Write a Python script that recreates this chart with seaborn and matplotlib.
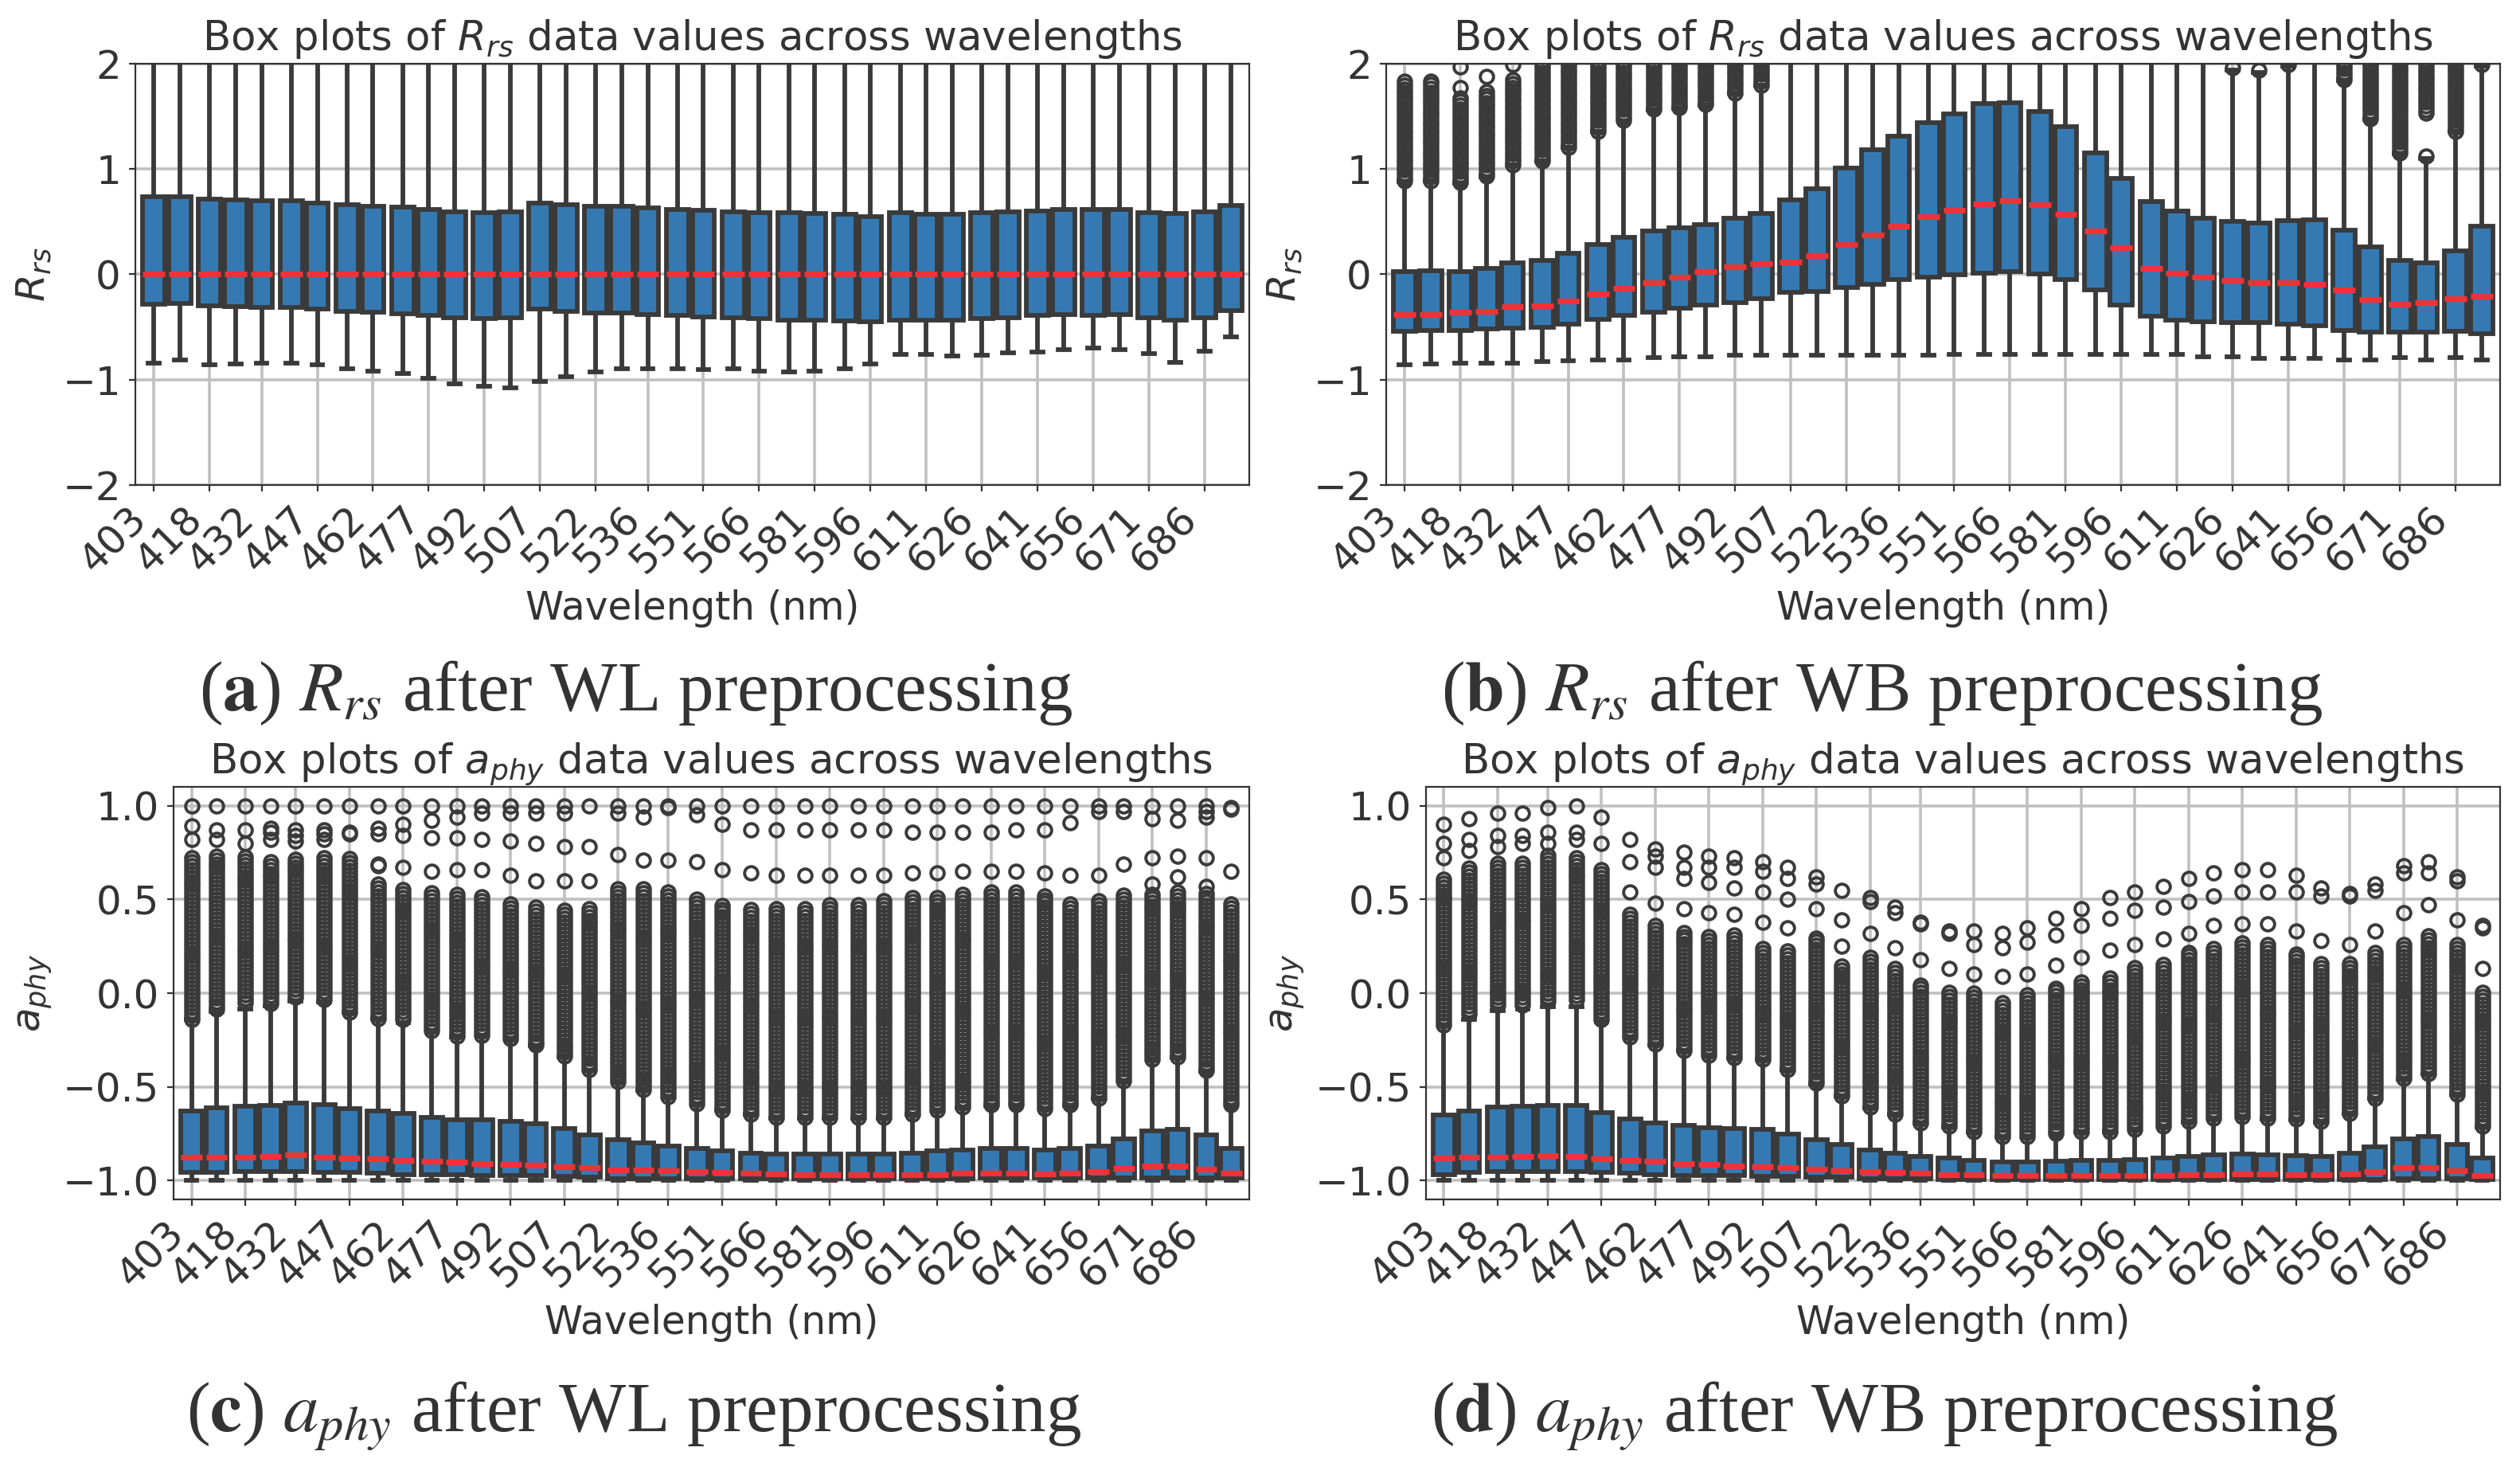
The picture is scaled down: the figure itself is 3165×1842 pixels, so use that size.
import numpy as np
import pandas as pd
import matplotlib
matplotlib.use("Agg")
import matplotlib.pyplot as plt
import seaborn as sns

# Wavelengths (nm), one box per band
wavelengths = [403, 410, 418, 425, 432, 440, 447, 455, 462, 470,
               477, 484, 492, 499, 507, 514, 522, 529, 536, 544,
               551, 559, 566, 574, 581, 589, 596, 604, 611, 618,
               626, 633, 641, 648, 656, 663, 671, 678, 686, 693]

# (a) Rrs after WL preprocessing
a_q1 = [-0.28, -0.274, -0.297, -0.307, -0.312, -0.317, -0.327, -0.348, -0.358, -0.373,
        -0.389, -0.414, -0.422, -0.414, -0.332, -0.35, -0.363, -0.366, -0.379, -0.389,
        -0.404, -0.414, -0.422, -0.435, -0.435, -0.44, -0.453, -0.435, -0.435, -0.435,
        -0.422, -0.409, -0.389, -0.384, -0.389, -0.384, -0.409, -0.435, -0.409, -0.345]
a_med = [0.0, 0.0, 0.0, 0.0, 0.0, 0.0, 0.0, 0.0, 0.0, 0.0,
         0.0, 0.0, 0.0, 0.0, 0.0, 0.0, 0.0, 0.0, 0.0, 0.0,
         0.0, 0.0, 0.0, 0.0, 0.0, 0.0, 0.0, 0.0, 0.0, 0.0,
         0.0, 0.0, 0.0, 0.0, 0.0, 0.0, 0.0, 0.0, 0.0, 0.0]
a_q3 = [0.734, 0.734, 0.716, 0.708, 0.703, 0.696, 0.68, 0.66, 0.647, 0.64,
        0.619, 0.593, 0.588, 0.593, 0.673, 0.665, 0.65, 0.645, 0.634, 0.619,
        0.609, 0.593, 0.588, 0.583, 0.575, 0.568, 0.55, 0.583, 0.57, 0.57,
        0.583, 0.596, 0.601, 0.614, 0.614, 0.619, 0.588, 0.58, 0.596, 0.652]
a_wlo = [-0.84, -0.81, -0.86, -0.854, -0.84, -0.84, -0.86, -0.893, -0.918, -0.944,
         -0.987, -1.04, -1.059, -1.079, -1.015, -0.974, -0.925, -0.898, -0.893, -0.893,
         -0.905, -0.893, -0.918, -0.93, -0.918, -0.893, -0.847, -0.76, -0.76, -0.778,
         -0.77, -0.744, -0.734, -0.714, -0.70, -0.714, -0.752, -0.836, -0.731, -0.59]
a_whi = [2.1] * 40

# (b) Rrs after WB preprocessing
b_q1 = [-0.54, -0.535, -0.53, -0.52, -0.51, -0.50, -0.47, -0.43, -0.39, -0.36,
        -0.32, -0.29, -0.265, -0.23, -0.17, -0.16, -0.125, -0.095, -0.05, -0.025,
        -0.005, 0.01, 0.03, 0.005, -0.05, -0.15, -0.29, -0.40, -0.435, -0.45,
        -0.46, -0.46, -0.47, -0.485, -0.53, -0.55, -0.55, -0.55, -0.54, -0.56]
b_med = [-0.38, -0.38, -0.36, -0.35, -0.31, -0.30, -0.25, -0.185, -0.13, -0.077,
         -0.025, 0.025, 0.07, 0.10, 0.12, 0.175, 0.28, 0.375, 0.455, 0.545,
         0.605, 0.67, 0.70, 0.66, 0.57, 0.41, 0.25, 0.06, 0.01, -0.026,
         -0.053, -0.076, -0.076, -0.094, -0.15, -0.24, -0.28, -0.265, -0.23, -0.21]
b_q3 = [0.03, 0.035, 0.03, 0.06, 0.11, 0.13, 0.2, 0.285, 0.35, 0.41,
        0.44, 0.47, 0.53, 0.58, 0.705, 0.81, 1.01, 1.18, 1.31, 1.44,
        1.52, 1.62, 1.63, 1.55, 1.405, 1.15, 0.91, 0.69, 0.60, 0.535,
        0.50, 0.49, 0.51, 0.52, 0.42, 0.26, 0.13, 0.11, 0.22, 0.455]
b_wlo = [-0.86, -0.85, -0.845, -0.845, -0.84, -0.83, -0.82, -0.815, -0.81, -0.79,
         -0.785, -0.78, -0.77, -0.77, -0.77, -0.77, -0.765, -0.765, -0.765, -0.765,
         -0.76, -0.76, -0.76, -0.76, -0.76, -0.76, -0.76, -0.76, -0.76, -0.78,
         -0.78, -0.795, -0.795, -0.795, -0.81, -0.81, -0.79, -0.81, -0.79, -0.815]
b_whi = [2.1] * 40
# dense flier columns (start, end); None = no dense column
b_flier_lo = [0.85, 0.85, 0.85, 0.88, 1.0, 1.07, 1.15, 1.29, 1.40, 1.53,
              1.56, 1.59, 1.68, 1.75, None, None, None, None, None, None,
              None, None, None, None, None, None, None, None, None, None,
              None, None, None, None, 1.79, 1.44, 1.12, 1.53, 1.35, None]
b_flier_hi = [1.85, 1.85, 1.70, 1.75, 1.87, 2.05, 2.05, 2.05, 2.05, 2.05,
              2.05, 2.05, 2.05, 2.05, None, None, None, None, None, None,
              None, None, None, None, None, None, None, None, None, None,
              None, None, None, None, 2.05, 2.05, 2.05, 2.05, 2.05, None]
b_single = [[], [], [1.77, 1.97], [1.88], [1.99], [], [], [], [], [],
            [], [], [], [], [], [], [], [], [], [],
            [], [], [], [], [], [], [], [], [], [],
            [1.96], [1.94], [1.99], [], [], [], [], [1.12], [], [1.99]]

# (c) aphy after WL preprocessing
c_q1 = [-0.957, -0.957, -0.952, -0.952, -0.952, -0.957, -0.957, -0.96, -0.967, -0.967,
        -0.967, -0.974, -0.974, -0.974, -0.978, -0.983, -0.989, -0.989, -0.989, -0.989,
        -0.989, -0.989, -0.989, -0.989, -0.989, -0.989, -0.989, -0.989, -0.989, -0.989,
        -0.985, -0.985, -0.985, -0.985, -0.985, -0.985, -0.985, -0.985, -0.985, -0.985]
c_med = [-0.876, -0.874, -0.874, -0.870, -0.863, -0.874, -0.878, -0.883, -0.891, -0.896,
         -0.902, -0.909, -0.913, -0.917, -0.924, -0.93, -0.941, -0.941, -0.948, -0.952,
         -0.957, -0.961, -0.963, -0.967, -0.967, -0.967, -0.97, -0.97, -0.967, -0.961,
         -0.961, -0.961, -0.963, -0.961, -0.952, -0.935, -0.92, -0.92, -0.939, -0.961]
c_q3 = [-0.63, -0.613, -0.604, -0.598, -0.587, -0.593, -0.615, -0.63, -0.643, -0.663,
        -0.674, -0.674, -0.685, -0.696, -0.722, -0.754, -0.783, -0.80, -0.815, -0.83,
        -0.843, -0.852, -0.859, -0.859, -0.859, -0.859, -0.859, -0.852, -0.843, -0.837,
        -0.83, -0.83, -0.837, -0.83, -0.815, -0.778, -0.733, -0.728, -0.757, -0.83]
c_wlo = [-1.0] * 40
c_whi = [1.0] * 40
c_flier_lo = [-0.15, -0.087, -0.05, -0.054, -0.02, -0.033, -0.12, -0.15, -0.14, -0.20,
              -0.23, -0.23, -0.24, -0.30, -0.37, -0.435, -0.5, -0.565, -0.6, -0.63,
              -0.64, -0.70, -0.70, -0.70, -0.70, -0.685, -0.70, -0.685, -0.663, -0.64,
              -0.63, -0.64, -0.652, -0.63, -0.576, -0.5, -0.38, -0.37, -0.446, -0.61]
c_flier_hi = [0.74, 0.74, 0.73, 0.72, 0.73, 0.74, 0.73, 0.58, 0.56, 0.54,
              0.54, 0.53, 0.49, 0.47, 0.45, 0.47, 0.56, 0.56, 0.54, 0.51,
              0.48, 0.46, 0.45, 0.47, 0.49, 0.49, 0.50, 0.52, 0.52, 0.54,
              0.54, 0.54, 0.52, 0.49, 0.50, 0.54, 0.54, 0.56, 0.55, 0.49]
c_single = [[0.82, 0.89, 1.0], [0.82, 0.87, 1.0], [0.80, 0.87, 1.0], [0.82, 0.86, 0.88, 1.0],
            [0.81, 0.84, 0.87, 1.0], [0.82, 0.85, 0.87, 1.0], [0.85, 0.86, 1.0],
            [0.68, 0.69, 0.85, 0.88, 1.0], [0.67, 0.84, 0.90, 1.0], [0.65, 0.83, 0.92, 1.0],
            [0.66, 0.83, 0.94, 1.0], [0.66, 0.82, 0.96, 1.0], [0.63, 0.81, 0.96, 1.0],
            [0.60, 0.80, 0.96, 1.0], [0.60, 0.78, 0.96, 1.0], [0.60, 0.78, 1.0],
            [0.74, 0.96, 1.0], [0.71, 0.94, 1.0], [0.71, 0.99, 1.0], [0.70, 0.95, 1.0],
            [0.66, 0.90, 1.0], [0.64, 0.87, 1.0], [0.63, 0.87, 1.0], [0.63, 0.87, 1.0],
            [0.63, 0.87, 1.0], [0.63, 0.87, 1.0], [0.63, 0.87, 1.0], [0.64, 0.86, 1.0],
            [0.64, 0.86, 1.0], [0.65, 0.86, 1.0], [0.65, 0.86, 1.0], [0.65, 0.87, 1.0],
            [0.64, 0.87, 1.0], [0.63, 0.91, 1.0], [0.63, 0.97, 1.0], [0.69, 0.97, 1.0],
            [0.58, 0.72, 0.93, 1.0], [0.62, 0.73, 0.92, 1.0], [0.57, 0.72, 0.94, 0.97, 1.0],
            [0.65, 0.98, 0.99]]

# (d) aphy after WB preprocessing
d_q1 = [-0.967, -0.957, -0.952, -0.952, -0.95, -0.95, -0.957, -0.961, -0.967, -0.974,
        -0.974, -0.974, -0.978, -0.978, -0.983, -0.983, -0.989, -0.989, -0.989, -0.993,
        -0.993, -0.993, -0.993, -0.993, -0.993, -0.993, -0.993, -0.993, -0.993, -0.993,
        -0.993, -0.993, -0.993, -0.993, -0.993, -0.993, -0.989, -0.989, -0.989, -0.993]
d_med = [-0.88, -0.876, -0.874, -0.87, -0.865, -0.87, -0.883, -0.891, -0.898, -0.907,
         -0.913, -0.92, -0.924, -0.93, -0.939, -0.946, -0.952, -0.957, -0.961, -0.967,
         -0.97, -0.972, -0.974, -0.974, -0.974, -0.972, -0.972, -0.972, -0.97, -0.967,
         -0.965, -0.965, -0.967, -0.97, -0.965, -0.95, -0.93, -0.93, -0.948, -0.972]
d_q3 = [-0.648, -0.63, -0.609, -0.604, -0.598, -0.598, -0.635, -0.67, -0.691, -0.707,
        -0.717, -0.722, -0.728, -0.75, -0.783, -0.809, -0.837, -0.852, -0.87, -0.88,
        -0.891, -0.902, -0.902, -0.896, -0.891, -0.891, -0.887, -0.88, -0.87, -0.863,
        -0.859, -0.863, -0.865, -0.87, -0.852, -0.82, -0.776, -0.765, -0.809, -0.88]
d_wlo = [-1.0] * 40
d_whi = [1.0] * 40
d_flier_lo = [-0.185, -0.11, -0.065, -0.065, -0.043, -0.033, -0.14, -0.24, -0.27, -0.34,
              -0.36, -0.374, -0.39, -0.435, -0.5, -0.565, -0.62, -0.674, -0.74, -0.76,
              -0.78, -0.80, -0.80, -0.79, -0.77, -0.76, -0.76, -0.74, -0.73, -0.70,
              -0.685, -0.685, -0.707, -0.73, -0.685, -0.61, -0.5, -0.478, -0.565, -0.75]
d_flier_hi = [0.62, 0.67, 0.70, 0.70, 0.74, 0.74, 0.67, 0.43, 0.38, 0.33,
              0.31, 0.31, 0.25, 0.23, 0.31, 0.16, 0.19, 0.14, 0.06, 0.02,
              0.0, -0.03, 0.0, 0.03, 0.08, 0.10, 0.15, 0.17, 0.23, 0.25,
              0.28, 0.26, 0.21, 0.16, 0.17, 0.22, 0.27, 0.31, 0.27, 0.02]
d_single = [[0.72, 0.80, 0.90], [0.76, 0.82, 0.93], [0.78, 0.84, 0.96], [0.80, 0.84, 0.96],
            [0.80, 0.86, 0.99], [0.82, 0.86, 1.0], [0.80, 0.94], [0.54, 0.70, 0.82],
            [0.48, 0.67, 0.73, 0.77], [0.45, 0.61, 0.67, 0.75], [0.43, 0.59, 0.67, 0.73],
            [0.42, 0.56, 0.67, 0.72], [0.38, 0.54, 0.65, 0.70], [0.35, 0.50, 0.61, 0.67],
            [0.45, 0.58, 0.62], [0.25, 0.39, 0.55], [0.32, 0.49, 0.51], [0.24, 0.43, 0.46],
            [0.18, 0.37, 0.38], [0.13, 0.32, 0.33], [0.10, 0.26, 0.33], [0.09, 0.24, 0.32],
            [0.10, 0.27, 0.35], [0.15, 0.31, 0.40], [0.19, 0.36, 0.45], [0.23, 0.40, 0.51],
            [0.26, 0.44, 0.54], [0.29, 0.46, 0.57], [0.32, 0.49, 0.61], [0.36, 0.52, 0.64],
            [0.37, 0.54, 0.66], [0.37, 0.54, 0.66], [0.33, 0.54, 0.63], [0.28, 0.52, 0.56],
            [0.26, 0.52, 0.53], [0.33, 0.55, 0.58], [0.43, 0.64, 0.68], [0.47, 0.64, 0.70],
            [0.39, 0.60, 0.62], [0.13, 0.35, 0.36]]

tick_wl = wavelengths[::2]

BOX = "#3579b3"
EDGE = "#3a3a3a"
MEDIAN = "#ee3338"
TXT = "#333333"

plt.rcParams.update({
    "font.family": ["DejaVu Sans"],
    "mathtext.fontset": "dejavusans",
    "text.color": TXT,
    "axes.labelcolor": TXT,
    "xtick.color": TXT,
    "ytick.color": TXT,
    "axes.edgecolor": "#333333",
    "axes.linewidth": 0.8,
    "grid.color": "#c0c0c0",
    "grid.linewidth": 1.3,
    "xtick.major.size": 3,
    "ytick.major.size": 3,
})


def sample_frame(q1, med, q3, wlo, whi, flo, fhi, single, step):
    # raw values that reproduce the box statistics
    rows = []
    for i, w in enumerate(wavelengths):
        top = q3[i] + 1.5 * (q3[i] - q1[i])
        hi = min(whi[i], top - 1e-3)
        fl = []
        if flo is not None and flo[i] is not None:
            fl = list(np.arange(max(flo[i], top + 1e-3), fhi[i] + 1e-9, step))
        if single is not None:
            fl += [v for v in single[i] if v > top]
        n = len(fl) + 5
        vals = [wlo[i]] + [q1[i]] * n + [med[i]] * n + [q3[i]] * n + [hi] + fl
        rows += [(w, v) for v in vals]
    return pd.DataFrame(rows, columns=["Wavelength", "value"])


def draw(ax, df, sym, ylim, yticks=None):
    sns.boxplot(data=df, x="Wavelength", y="value", native_scale=True, orient="x",
                color=BOX, saturation=1, width=0.85, linewidth=2.1, linecolor=EDGE,
                fliersize=6,
                flierprops=dict(marker="o", markerfacecolor="none",
                                markeredgecolor=EDGE, markeredgewidth=1.4),
                medianprops=dict(color=MEDIAN, linewidth=2.6),
                ax=ax)
    ax.set_axisbelow(True)
    ax.grid(True)
    ax.set_xlim(398, 698)
    ax.set_ylim(*ylim)
    if yticks is not None:
        ax.set_yticks(yticks)
    ax.set_xticks(tick_wl)
    ax.set_xticklabels([str(w) for w in tick_wl], rotation=45, ha="right", fontsize=18)
    ax.tick_params(axis="y", labelsize=18)
    ax.set_title(f"Box plots of ${sym}$ data values across wavelengths", fontsize=18.5)
    ax.set_xlabel("Wavelength (nm)", fontsize=17.5)
    ax.set_ylabel(f"${sym}$", fontsize=18)


W, H = 3165, 1842
fig = plt.figure(figsize=(W / 200, H / 200), dpi=200)


def add_axes(x0, x1, y0, y1):
    return fig.add_axes([x0 / W, 1 - y1 / H, (x1 - x0) / W, (y1 - y0) / H])


ax_a = add_axes(170, 1569, 80, 609)
ax_b = add_axes(1741, 3140, 80, 609)
ax_c = add_axes(218, 1569, 988, 1506)
ax_d = add_axes(1791, 3140, 988, 1506)

draw(ax_a, sample_frame(a_q1, a_med, a_q3, a_wlo, a_whi, None, None, None, 0.035),
     "R_{rs}", (-2, 2), [-2, -1, 0, 1, 2])
draw(ax_b, sample_frame(b_q1, b_med, b_q3, b_wlo, b_whi, b_flier_lo, b_flier_hi, b_single, 0.035),
     "R_{rs}", (-2, 2), [-2, -1, 0, 1, 2])
draw(ax_c, sample_frame(c_q1, c_med, c_q3, c_wlo, c_whi, c_flier_lo, c_flier_hi, c_single, 0.021),
     "a_{phy}", (-1.1, 1.1))
draw(ax_d, sample_frame(d_q1, d_med, d_q3, d_wlo, d_whi, d_flier_lo, d_flier_hi, d_single, 0.021),
     "a_{phy}", (-1.1, 1.1))

# sub-figure captions
captions = [
    (799, 892, r"($\mathbf{a}$) $R_{rs}$ after WL preprocessing"),
    (2364, 892, r"($\mathbf{b}$) $R_{rs}$ after WB preprocessing"),
    (796, 1798, r"($\mathbf{c}$) $a_{phy}$ after WL preprocessing"),
    (2367, 1798, r"($\mathbf{d}$) $a_{phy}$ after WB preprocessing"),
]
cap_texts = []
for cx, cy, s in captions:
    t = fig.text(cx / W, 1 - cy / H, s, ha="center", va="baseline", fontsize=26,
                 family=["Liberation Serif", "DejaVu Serif"], math_fontfamily="stix",
                 color=TXT)
    cap_texts.append(t)

fig.canvas.draw()
renderer = fig.canvas.get_renderer()
width_a = cap_texts[0].get_window_extent(renderer).width
size = 26 * 1098 / width_a
for t in cap_texts:
    t.set_fontsize(size)

fig.savefig("out.png", dpi=200)
